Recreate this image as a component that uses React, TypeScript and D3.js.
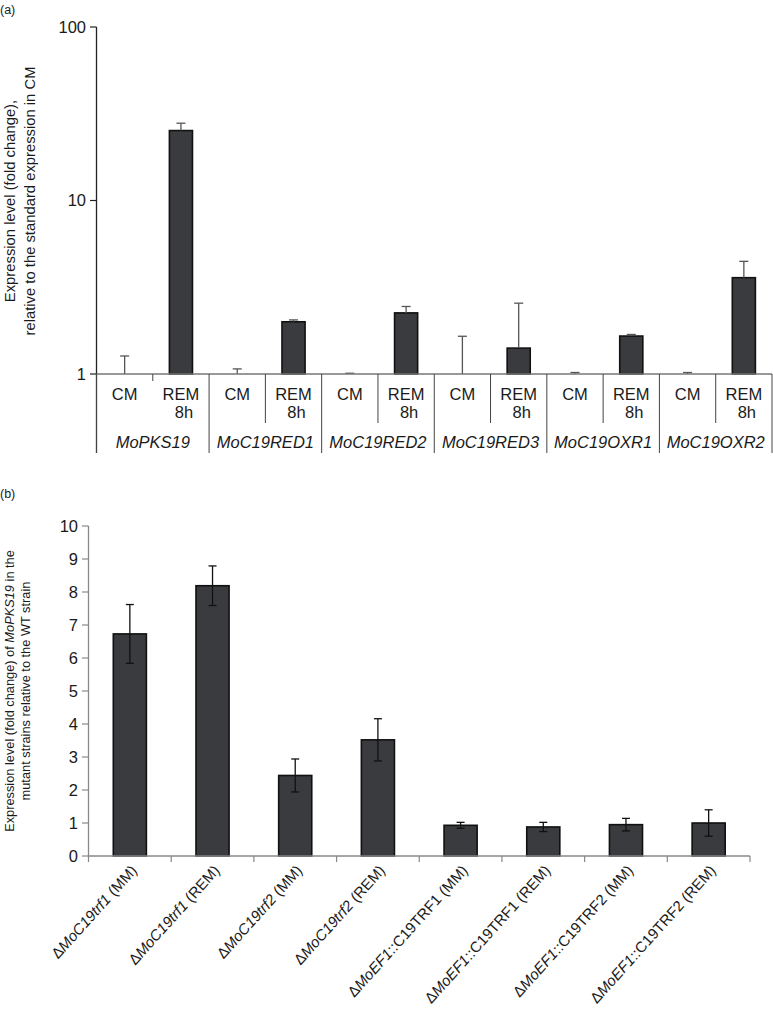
import React from "react";
import * as d3 from "d3";

// ---------- Panel (a) data ----------
const geneGroups = ["MoPKS19", "MoC19RED1", "MoC19RED2", "MoC19RED3", "MoC19OXR1", "MoC19OXR2"];
const conditionLabels = [["CM"], ["REM", "8h"]];
const cmValues = [1, 1, 1, 1, 1, 1];
const cmErrors = [0.27, 0.07, 0.01, 0.65, 0.02, 0.02];
const remValues = [25.3, 2.0, 2.25, 1.41, 1.655, 3.59];
const remErrors = [2.6, 0.05, 0.2, 1.15, 0.035, 0.87];
const yTicksA = [1, 10, 100];

// ---------- Panel (b) data ----------
const strainPrefix = ["MoC19trf1", "MoC19trf1", "MoC19trf2", "MoC19trf2", "MoEF1", "MoEF1", "MoEF1", "MoEF1"];
const strainSuffix = [" (MM)", " (REM)", " (MM)", " (REM)", "::C19TRF1 (MM)", "::C19TRF1 (REM)", "::C19TRF2 (MM)", "::C19TRF2 (REM)"];
const strainValues = [6.73, 8.19, 2.44, 3.52, 0.93, 0.88, 0.95, 1.0];
const strainErrors = [0.89, 0.6, 0.5, 0.64, 0.09, 0.14, 0.19, 0.4];
const yTicksB = [0, 1, 2, 3, 4, 5, 6, 7, 8, 9, 10];

const FONT = "'Liberation Sans', Arial, Helvetica, sans-serif";
const BAR_FILL = "#3a3b3e";
const TEXT = "#1a1a1a";

export default function App() {
  // ----- panel a -----
  const catsA: { gene: number; cond: number; value: number; err: number }[] = [];
  geneGroups.forEach((_, g) => {
    catsA.push({ gene: g, cond: 0, value: cmValues[g], err: cmErrors[g] });
    catsA.push({ gene: g, cond: 1, value: remValues[g], err: remErrors[g] });
  });
  const xA = d3.scaleBand<number>().domain(d3.range(catsA.length)).range([96.5, 772]).padding(0);
  const yA = d3.scaleLog().domain([1, 100]).range([374, 27]);
  const bwA = xA.bandwidth() * 0.41;
  const axisYA = yA(1);

  // ----- panel b -----
  const xB = d3.scaleBand<number>().domain(d3.range(strainValues.length)).range([88.5, 750]).padding(0);
  const yB = d3.scaleLinear().domain([0, 10]).range([856, 526]);
  const bwB = xB.bandwidth() * 0.4;

  return (
    <svg width={773} height={1013} style={{ position: "absolute", left: 0, top: 0, background: "#fff" }} fontFamily={FONT}>
      <rect x={0} y={0} width={773} height={1013} fill="#fff" />
      {/* ================= Panel (a) ================= */}
      <text x={0} y={14} fontSize={12.5} fill={TEXT}>(a)</text>
      <g transform="translate(15,201) rotate(-90)">
        <text x={0} y={0} textAnchor="middle" fontSize={14.8} fill={TEXT}>Expression level (fold change),</text>
        <text x={0} y={20} textAnchor="middle" fontSize={14.8} fill={TEXT}>relative to the standard expression in CM</text>
      </g>
      {/* y axis */}
      <line x1={96.5} x2={96.5} y1={yA(100)} y2={453} stroke="#222" strokeWidth={1.3} />
      {yTicksA.map((t) => (
        <g key={t}>
          <line x1={90} x2={96.5} y1={yA(t)} y2={yA(t)} stroke="#222" strokeWidth={1.2} />
          <text x={86} y={yA(t)} dy="0.36em" textAnchor="end" fontSize={16.5} fill={TEXT}>{t}</text>
        </g>
      ))}
      {/* bars */}
      {catsA.map((c, i) => {
        const cx = (xA(i) as number) + xA.bandwidth() / 2;
        const top = yA(c.value);
        const errTop = yA(c.value + c.err);
        return (
          <g key={i}>
            {c.value > 1 && (
              <rect x={cx - bwA / 2} y={top} width={bwA} height={axisYA - top} fill={BAR_FILL} stroke="#111" strokeWidth={1.6} />
            )}
            <line x1={cx} x2={cx} y1={top} y2={errTop} stroke="#555" strokeWidth={1.3} />
            <line x1={cx - 4.5} x2={cx + 4.5} y1={errTop} y2={errTop} stroke="#555" strokeWidth={1.3} />
          </g>
        );
      })}
      {/* x axis */}
      <line x1={96.5} x2={772} y1={axisYA} y2={axisYA} stroke="#777" strokeWidth={1.4} />
      {/* group separators & labels */}
      {catsA.map((c, i) => {
        const left = xA(i) as number;
        const cx = left + xA.bandwidth() / 2;
        const lines = conditionLabels[c.cond];
        return (
          <g key={"lab" + i}>
            {c.cond === 1 && (
              <line x1={left} x2={left} y1={axisYA} y2={c.gene === 0 ? axisYA + 7 : 423} stroke="#444" strokeWidth={1} />
            )}
            <text x={cx} y={400} textAnchor="middle" fontSize={16.5} fill={TEXT}>{lines[0]}</text>
            {lines[1] && (
              <text x={cx + 3} y={418} textAnchor="middle" fontSize={16.5} fill={TEXT}>{lines[1]}</text>
            )}
          </g>
        );
      })}
      {d3.range(geneGroups.length + 1).map((g) => {
        const x = g < geneGroups.length ? (xA(g * 2) as number) : 772;
        return <line key={"sep" + g} x1={x} x2={x} y1={axisYA} y2={453} stroke="#444" strokeWidth={1} />;
      })}
      {geneGroups.map((name, g) => {
        const x = (xA(g * 2) as number) + xA.bandwidth();
        return (
          <text key={name} x={x} y={448} textAnchor="middle" fontSize={16.5} fontStyle="italic" fill={TEXT}>{name}</text>
        );
      })}

      {/* ================= Panel (b) ================= */}
      <text x={0} y={498} fontSize={12.5} fill={TEXT}>(b)</text>
      <g transform="translate(14,691) rotate(-90)">
        <text x={0} y={0} textAnchor="middle" fontSize={12.8} fill={TEXT}>
          Expression level (fold change) of <tspan fontStyle="italic">MoPKS19</tspan> in the
        </text>
        <text x={0} y={16} textAnchor="middle" fontSize={12.8} fill={TEXT}>mutant strains relative to the WT strain</text>
      </g>
      <line x1={88.5} x2={88.5} y1={yB(10)} y2={yB(0)} stroke="#888" strokeWidth={1.3} />
      {yTicksB.map((t) => (
        <g key={"yb" + t}>
          <line x1={82} x2={88.5} y1={yB(t)} y2={yB(t)} stroke="#888" strokeWidth={1.2} />
          <text x={78} y={yB(t)} dy="0.36em" textAnchor="end" fontSize={16.5} fill={TEXT}>{t}</text>
        </g>
      ))}
      {strainValues.map((v, i) => {
        const cx = (xB(i) as number) + xB.bandwidth() / 2;
        const top = yB(v);
        const eT = yB(v + strainErrors[i]);
        const eB = yB(v - strainErrors[i]);
        return (
          <g key={"bb" + i}>
            <rect x={cx - bwB / 2} y={top} width={bwB} height={yB(0) - top} fill={BAR_FILL} stroke="#111" strokeWidth={1.6} />
            <line x1={cx} x2={cx} y1={eT} y2={eB} stroke="#111" strokeWidth={1.3} />
            <line x1={cx - 4} x2={cx + 4} y1={eT} y2={eT} stroke="#111" strokeWidth={1.3} />
            <line x1={cx - 4} x2={cx + 4} y1={eB} y2={eB} stroke="#111" strokeWidth={1.3} />
          </g>
        );
      })}
      <line x1={88.5} x2={750} y1={yB(0)} y2={yB(0)} stroke="#888" strokeWidth={1.4} />
      {d3.range(strainValues.length + 1).map((i) => {
        const x = i < strainValues.length ? (xB(i) as number) : 750;
        return <line key={"xt" + i} x1={x} x2={x} y1={yB(0)} y2={yB(0) + 6} stroke="#888" strokeWidth={1.2} />;
      })}
      {strainValues.map((_, i) => {
        const cx = (xB(i) as number) + xB.bandwidth() / 2;
        return (
          <text key={"xl" + i} transform={`translate(${cx + 8},${871}) rotate(-48)`} textAnchor="end" fontSize={15} fill={TEXT}>
            Δ<tspan fontStyle="italic">{strainPrefix[i]}</tspan>{strainSuffix[i]}
          </text>
        );
      })}
    </svg>
  );
}
